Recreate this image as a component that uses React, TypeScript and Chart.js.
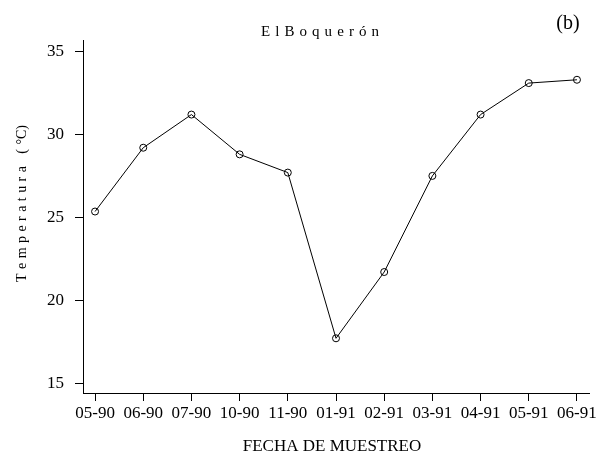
import React, { useEffect, useRef } from "react";
import { Chart, registerables } from "chart.js";

Chart.register(...registerables);

// Sampling dates (month-year) and mean water temperature at El Boquerón
const fechas = ["05-90", "06-90", "07-90", "10-90", "11-90", "01-91", "02-91", "03-91", "04-91", "05-91", "06-91"];
const temperatura = [25.35, 29.2, 31.2, 28.8, 27.7, 17.7, 21.7, 27.5, 31.2, 33.1, 33.3];
const yTicks = [15, 20, 25, 30, 35];

const titulo = "ElBoquerón";
const panel = "(b)";
const ejeX = "FECHA DE MUESTREO";
const ejeYSpaced = "Temperatura (";
const ejeYUnit = "°C)";

const SERIF = "'Liberation Serif', 'Times New Roman', serif";

// Draw text letter by letter, spread out so that it spans a given width,
// optionally followed by a tightly set suffix
function spacedText(ctx: CanvasRenderingContext2D, text: string, x: number, y: number, width: number, suffix = "") {
  const chars = Array.from(text);
  const widths = chars.map((c) => ctx.measureText(c).width);
  const suffixW = suffix ? ctx.measureText(suffix).width : 0;
  const natural = widths.reduce((a, b) => a + b, 0) + suffixW;
  const gaps = chars.length - (suffix ? 0 : 1);
  const gap = gaps > 0 ? (width - natural) / gaps : 0;
  let cx = x;
  chars.forEach((c, i) => {
    ctx.fillText(c, cx, y);
    cx += widths[i] + gap;
  });
  if (suffix) ctx.fillText(suffix, cx, y);
}

const labelsPlugin = {
  id: "labelsPlugin",
  afterDraw(chart: any) {
    const ctx: CanvasRenderingContext2D = chart.ctx;
    ctx.save();
    ctx.fillStyle = "#000";
    ctx.textBaseline = "middle";
    ctx.textAlign = "left";

    // title
    ctx.font = `15px ${SERIF}`;
    spacedText(ctx, titulo, 261, 32, 118);

    // panel letter
    ctx.font = `20px ${SERIF}`;
    ctx.textAlign = "center";
    ctx.fillText(panel, 568, 24);

    // x axis title
    ctx.font = `17px ${SERIF}`;
    ctx.fillText(ejeX, 332, 447);

    // y axis title, rotated
    ctx.textAlign = "left";
    ctx.font = `14px ${SERIF}`;
    ctx.translate(22, 282);
    ctx.rotate(-Math.PI / 2);
    spacedText(ctx, ejeYSpaced, 0, 0, 157, ejeYUnit);
    ctx.restore();
  },
};

export default function App() {
  const ref = useRef<HTMLCanvasElement>(null);

  useEffect(() => {
    if (!ref.current) return;
    const chart = new Chart(ref.current, {
      type: "line",
      data: {
        datasets: [
          {
            data: temperatura.map((v, i) => ({ x: i, y: v })),
            borderColor: "#000",
            borderWidth: 1,
            backgroundColor: "rgba(0,0,0,0)",
            pointStyle: "circle",
            pointRadius: 3.5,
            pointBorderWidth: 1,
            pointBorderColor: "#000",
            pointBackgroundColor: "rgba(0,0,0,0)",
            tension: 0,
            fill: false,
          },
        ],
      },
      options: {
        responsive: false,
        animation: false,
        layout: { padding: { top: 40, right: 9, left: 0, bottom: 0 } },
        plugins: {
          legend: { display: false },
          tooltip: { enabled: false },
          title: { display: false },
        },
        scales: {
          x: {
            type: "linear",
            min: -0.25,
            max: 10.25,
            afterBuildTicks: (scale: any) => {
              scale.ticks = fechas.map((_, i) => ({ value: i }));
            },
            afterFit: (scale: any) => {
              scale.height = 62;
            },
            ticks: {
              autoSkip: false,
              maxRotation: 0,
              padding: 2,
              color: "#000",
              font: { family: SERIF, size: 17 },
              callback: (v: any) => fechas[Math.round(Number(v))] ?? "",
            },
            grid: {
              drawOnChartArea: false,
              drawTicks: true,
              tickLength: 8,
              color: "#000",
              lineWidth: 1,
            },
            border: { display: true, color: "#000", width: 1 },
          },
          y: {
            type: "linear",
            min: 14.4,
            max: 35.7,
            afterBuildTicks: (scale: any) => {
              scale.ticks = yTicks.map((v) => ({ value: v }));
            },
            afterFit: (scale: any) => {
              scale.width = 83;
            },
            ticks: {
              padding: 11,
              color: "#000",
              font: { family: SERIF, size: 17 },
            },
            grid: {
              drawOnChartArea: false,
              drawTicks: true,
              tickLength: 8,
              color: "#000",
              lineWidth: 1,
            },
            border: { display: true, color: "#000", width: 1 },
          },
        },
      },
      plugins: [labelsPlugin],
    });
    return () => chart.destroy();
  }, []);

  return (
    <div style={{ position: "fixed", left: 0, top: 0, width: 599, height: 455, background: "#fff" }}>
      <canvas ref={ref} width={599} height={455} />
    </div>
  );
}
